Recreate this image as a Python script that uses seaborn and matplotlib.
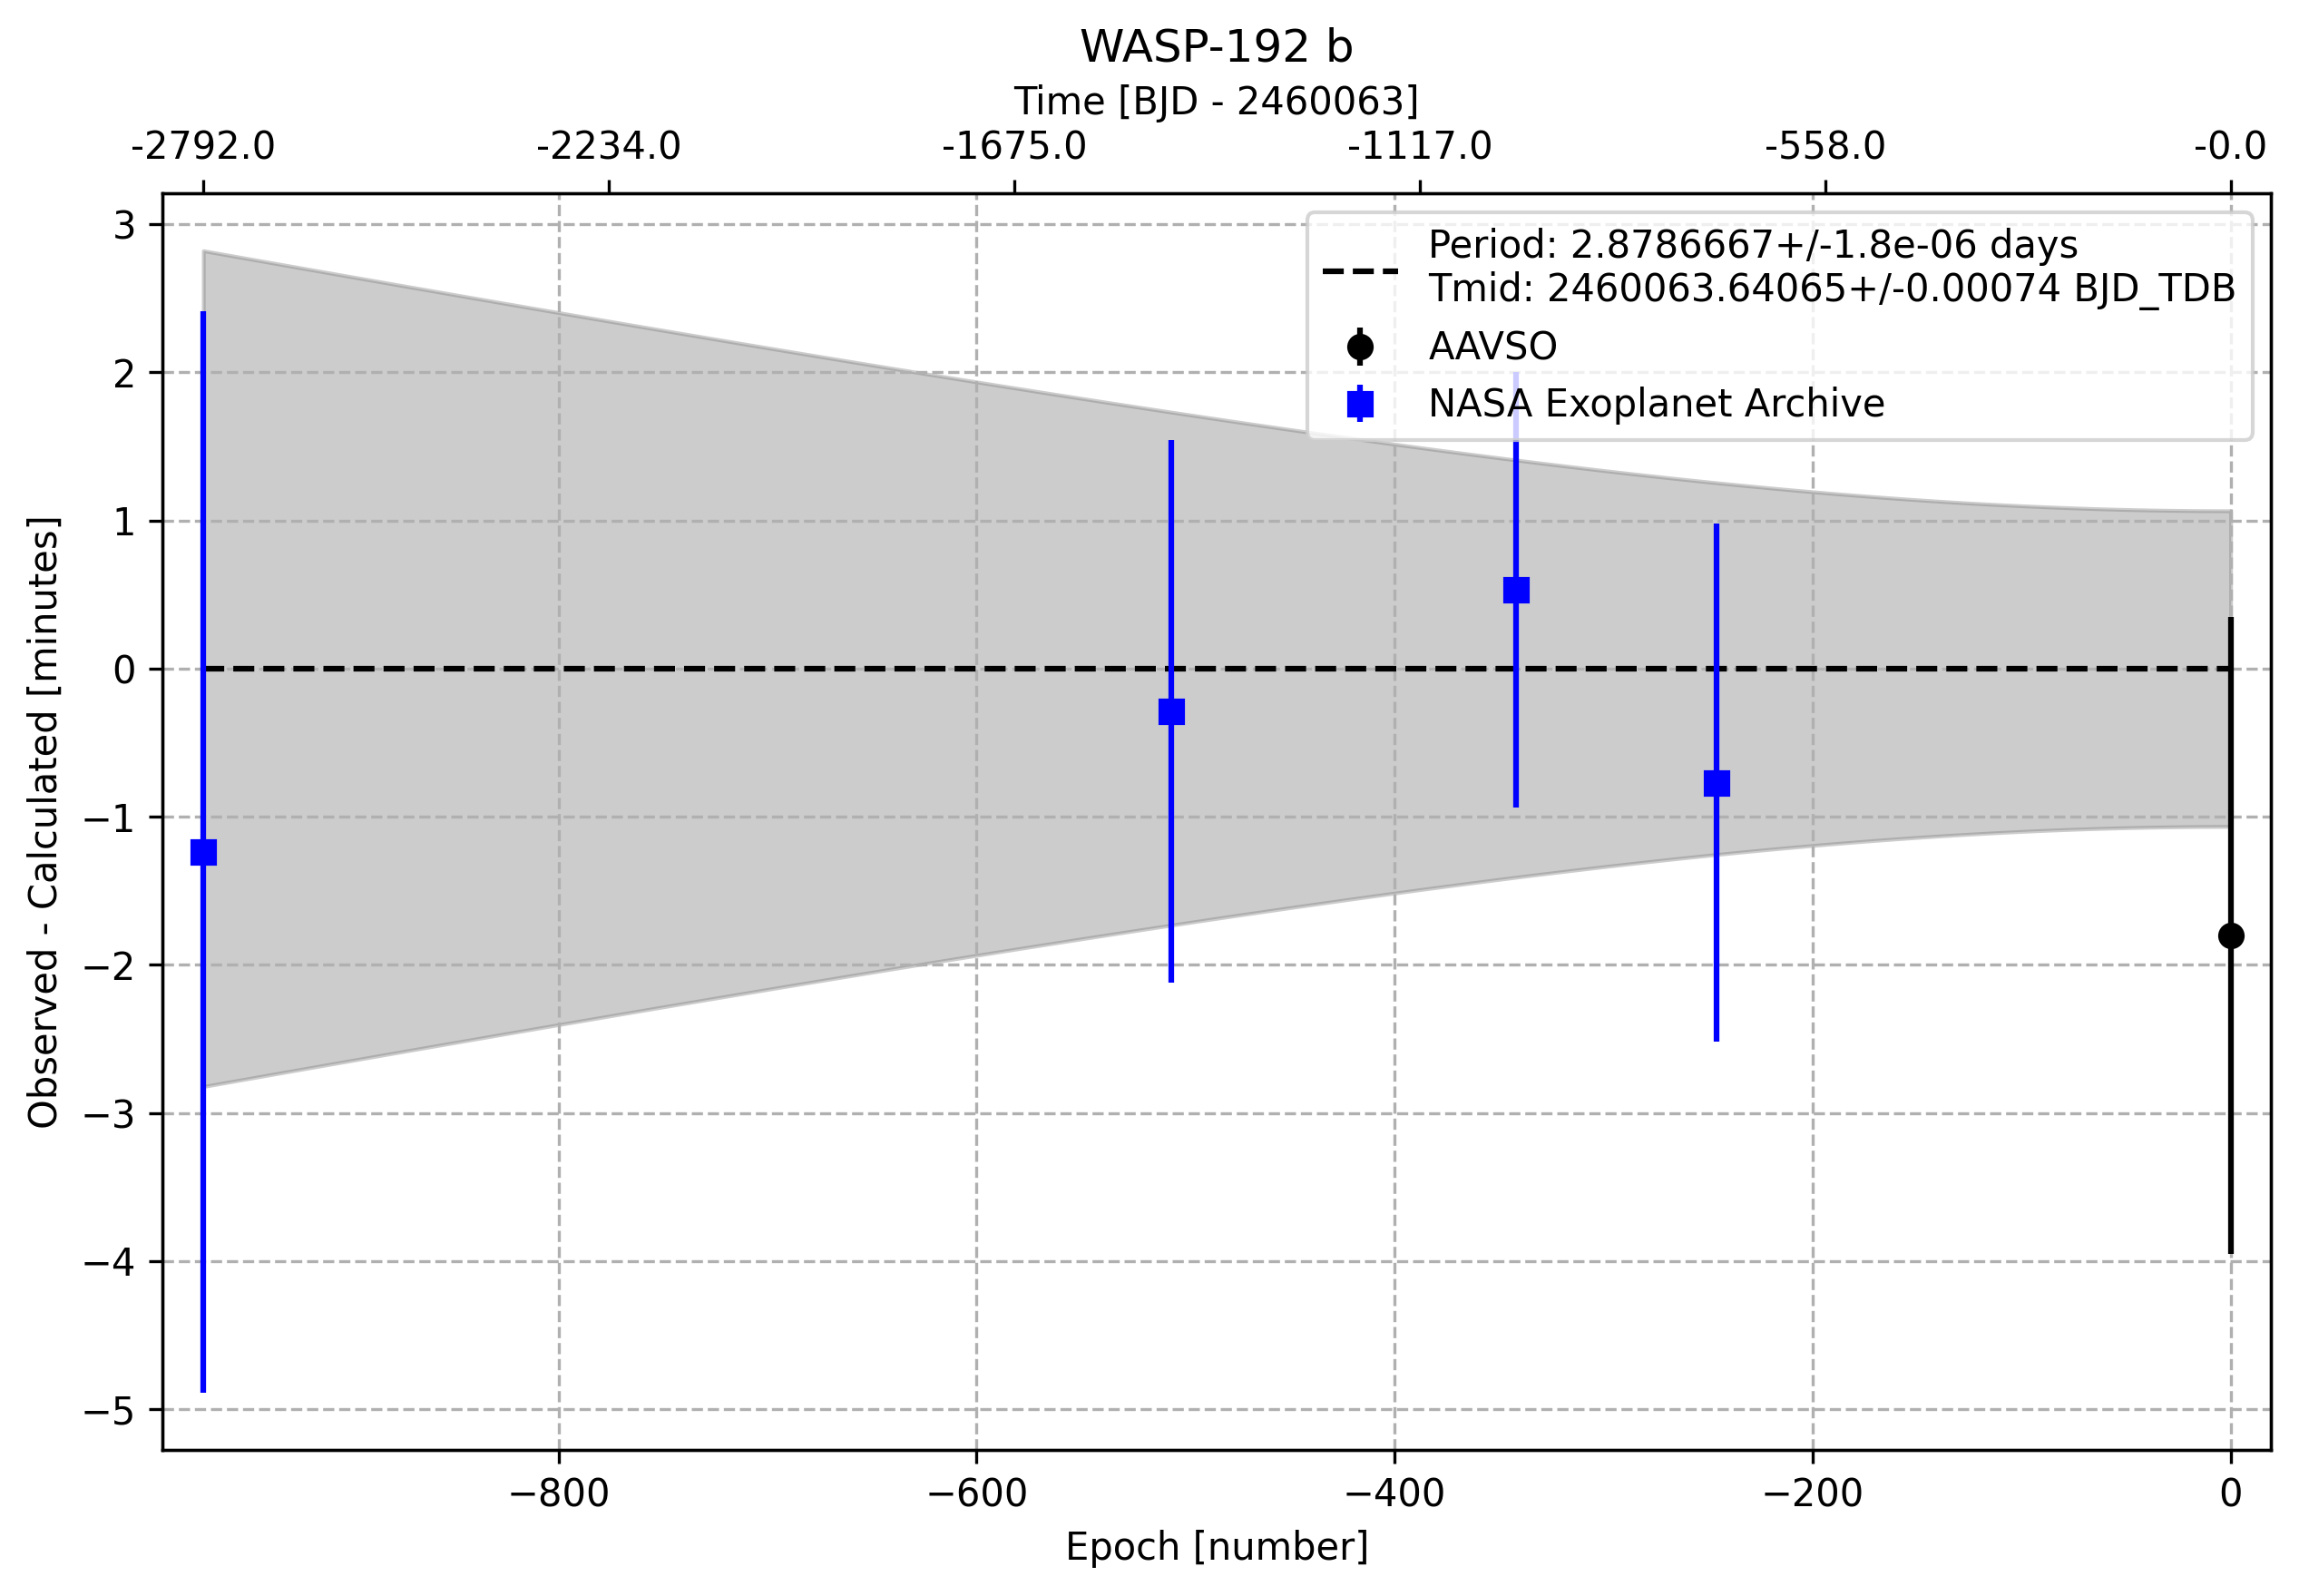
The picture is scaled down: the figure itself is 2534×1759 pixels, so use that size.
import numpy as np
import matplotlib
matplotlib.use("Agg")
import matplotlib.pyplot as plt
import seaborn as sns

# ephemeris (legend text + band width)
period = 2.8786667
period_err = 1.87e-6      # days, width of the shaded band
tmid_err = 0.00074        # days

# observations: epoch, O-C [minutes], error [minutes]
nasa_epoch = [-970, -507, -342, -246]
nasa_oc = [-1.24, -0.29, 0.53, -0.77]
nasa_err = [3.65, 1.83, 1.47, 1.75]

aavso_epoch = [0]
aavso_oc = [-1.80]
aavso_err = [2.15]

time_labels = ["-2792.0", "-2234.0", "-1675.0", "-1117.0", "-558.0", "-0.0"]

model_label = ("Period: 2.8786667+/-1.8e-06 days\n"
               "Tmid: 2460063.64065+/-0.00074 BJD_TDB")


fig = plt.figure(figsize=(2534 / 300, 1759 / 300), dpi=300)
ax = fig.add_axes([0.0708, 0.0914, 0.9171, 0.7873])

all_epochs = np.array(nasa_epoch + aavso_epoch)
emin, emax = all_epochs.min(), all_epochs.max()

# uncertainty envelope of the linear ephemeris
ep = np.linspace(emin, emax, 300)
band = np.sqrt(tmid_err**2 + (ep * period_err)**2) * 24 * 60
ax.fill_between(ep, -band, band, color="gray", alpha=0.4)

sns.lineplot(x=[emin, emax], y=[0, 0], ax=ax, color="k", linestyle="--",
             linewidth=1.5, label=model_label, legend=False)

ax.errorbar(aavso_epoch, aavso_oc, yerr=aavso_err, fmt="o", color="black",
            label="AAVSO")
ax.errorbar(nasa_epoch, nasa_oc, yerr=nasa_err, fmt="s", color="blue",
            label="NASA Exoplanet Archive")

ax.margins(x=0.02)
ax.set_xlabel("Epoch [number]")
ax.set_ylabel("Observed - Calculated [minutes]")
ax.grid(True, ls="--")
ax.legend(loc="upper right")

ax2 = ax.twiny()
ax2.set_xlim(ax.get_xlim())
ax2.set_xticks(np.linspace(emin, emax, len(time_labels)))
ax2.set_xticklabels(time_labels)
ax2.set_xlabel("Time [BJD - 2460063]")

ax.set_title("WASP-192 b")

fig.savefig("out.png", dpi=300)
